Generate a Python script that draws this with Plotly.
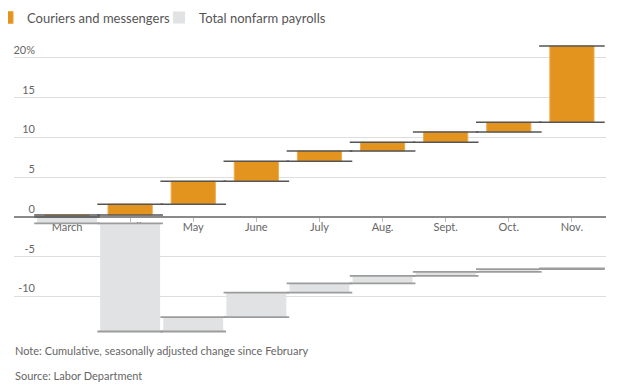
import plotly.graph_objects as go

months = ["March", "April", "May", "June", "July", "Aug.", "Sept.", "Oct.", "Nov."]
couriers = [0.25, 1.6, 4.5, 7.0, 8.3, 9.4, 10.7, 11.9, 21.5]
nonfarm = [-0.8, -14.4, -12.6, -9.5, -8.35, -7.4, -6.9, -6.55, -6.45]
ytick_vals = [-10, -5, 0, 5, 10, 15, 20]
ytick_text = ["-10", "-5", "\u20070", "\u20075", "10", "15", "20%"]

ORANGE = "#E3941F"
GRAY = "#E1E2E3"
YMIN, YMAX = -15.47, 22.26
XMIN, XMAX = -0.84, 8.54

idx = list(range(len(months)))


def steps(levels):
    starts = [0] + levels[:-1]
    deltas = [e - s for s, e in zip(starts, levels)]
    return starts, deltas


def connectors(levels, half=0.52):
    starts = [0] + levels[:-1]
    xs, ys = [], []
    for i, (s, e) in enumerate(zip(starts, levels)):
        for v in (s, e):
            xs += [i - half, i + half, None]
            ys += [v, v, None]
    return xs, ys


fig = go.Figure()

g_start, g_delta = steps(nonfarm)
fig.add_trace(go.Bar(x=idx, y=g_delta, base=g_start, width=0.95,
                     marker=dict(color=GRAY, line=dict(width=0)),
                     name="Total nonfarm payrolls", legendrank=2))
gx, gy = connectors(nonfarm)
fig.add_trace(go.Scatter(x=gx, y=gy, mode="lines", line=dict(color="#9c9c9c", width=1.8),
                         showlegend=False, hoverinfo="skip"))

o_start, o_delta = steps(couriers)
fig.add_trace(go.Bar(x=idx, y=o_delta, base=o_start, width=0.70,
                     marker=dict(color=ORANGE, line=dict(width=1, color="#EDAA4A")),
                     name="Couriers and messengers", legendrank=1))
ox, oy = connectors(couriers)
fig.add_trace(go.Scatter(x=ox, y=oy, mode="lines", line=dict(color="#555555", width=1.5),
                         showlegend=False, hoverinfo="skip"))

fig.update_layout(
    width=624, height=389,
    margin=dict(l=6, r=26, t=32, b=57, autoexpand=False),
    paper_bgcolor="white", plot_bgcolor="white",
    barmode="overlay",
    font=dict(family="Lato", color="#666666", size=11),
    legend=dict(orientation="h", x=-0.0455, y=1.125, xanchor="left", yanchor="top",
                font=dict(size=13, color="#555555"), itemwidth=30,
                entrywidth=127, entrywidthmode="pixels",
                traceorder="normal", bgcolor="rgba(0,0,0,0)"),
    xaxis=dict(range=[XMIN, XMAX], tickvals=idx, ticktext=months,
               anchor="free", position=(0 - YMIN) / (YMAX - YMIN),
               showline=True, linecolor="#8a8a8a", linewidth=2,
               ticks="outside", ticklen=4, tickcolor="#bbbbbb", tickwidth=1,
               ticklabelstandoff=-4,
               showgrid=False, zeroline=False, layer="below traces", automargin=False,
               tickfont=dict(size=11, color="#666666")),
    yaxis=dict(range=[YMIN, YMAX], tickvals=ytick_vals, ticktext=ytick_text,
               showgrid=True, gridcolor="#dedede", gridwidth=1, zeroline=False,
               ticks="", ticklabelstandoff=-22, ticklabelshift=-8, automargin=False,
               tickfont=dict(size=11, color="#666666")),
)

fig.add_annotation(text="Note: Cumulative, seasonally adjusted change since February",
                   xref="paper", yref="paper", x=-0.002, y=(340 - 350) / 300,
                   xanchor="left", yanchor="middle", showarrow=False,
                   font=dict(size=11, color="#666666"))
fig.add_annotation(text="Source: Labor Department",
                   xref="paper", yref="paper", x=-0.002, y=(340 - 375) / 300,
                   xanchor="left", yanchor="middle", showarrow=False,
                   font=dict(size=11, color="#666666"))

fig.write_html("out.html")
